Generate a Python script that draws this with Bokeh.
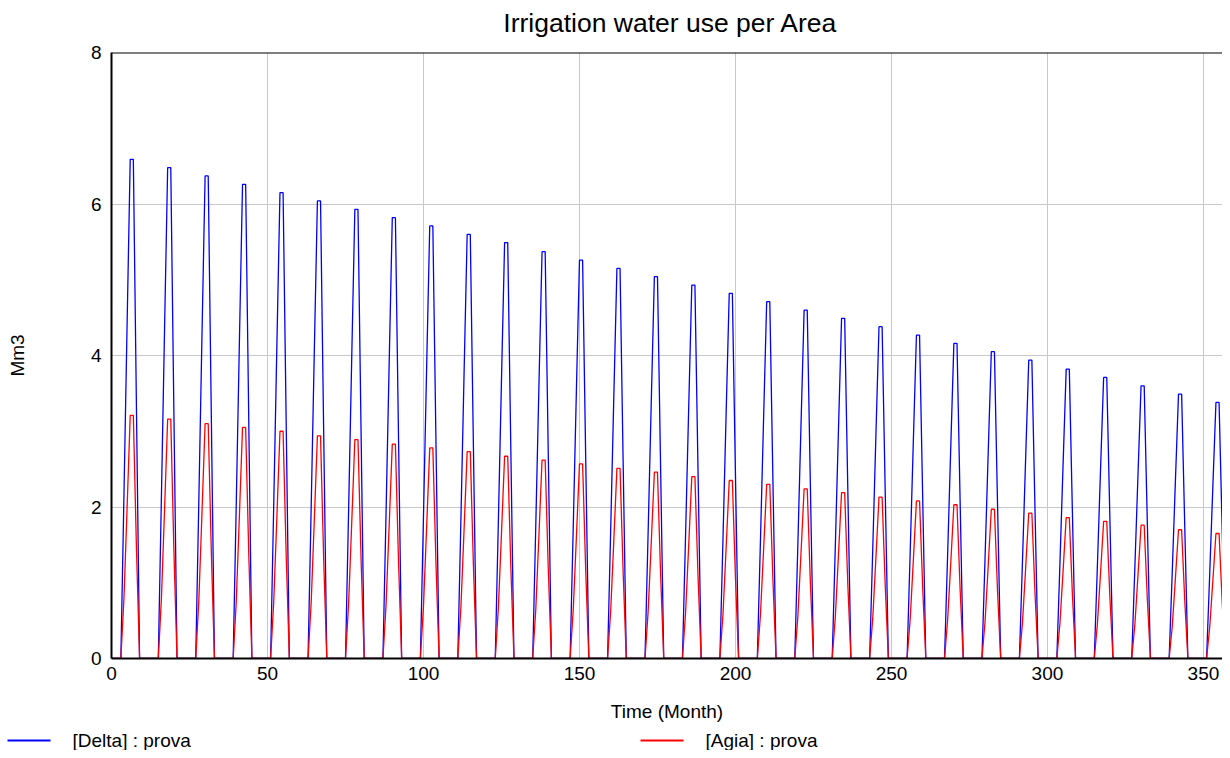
from bokeh.plotting import figure
from bokeh.models import Range1d, Span, FixedTicker
from bokeh.core.properties import value
from bokeh.embed import file_html
from bokeh.resources import INLINE

# Peak value of each yearly irrigation pulse, 30 years
delta_peaks = [6.59, 6.48, 6.37, 6.26, 6.15, 6.04, 5.93, 5.82, 5.71, 5.60,
               5.49, 5.37, 5.26, 5.15, 5.04, 4.93, 4.82, 4.71, 4.60, 4.49,
               4.38, 4.27, 4.16, 4.05, 3.94, 3.82, 3.71, 3.60, 3.49, 3.38]
agia_peaks = [3.21, 3.16, 3.10, 3.05, 3.00, 2.94, 2.89, 2.83, 2.78, 2.73,
              2.67, 2.62, 2.57, 2.51, 2.46, 2.40, 2.35, 2.30, 2.24, 2.19,
              2.13, 2.08, 2.03, 1.97, 1.92, 1.86, 1.81, 1.76, 1.70, 1.65]
# Monthly shape of a pulse within each year (fraction of that year's peak)
delta_season = [0, 0, 0, 0, 0.33, 0.67, 1, 1, 0.5, 0, 0, 0]
agia_season = [0, 0, 0, 0, 0.25, 0.62, 1, 1, 0.45, 0, 0, 0]

title_text = ["Irrigation water use per Area"]
series_labels = ["[Delta] : prova", "[Agia] : prova"]
series_colors = ["#0000ff", "#ff0000"]

months = list(range(0, 361))
delta = []
agia = []
for m in months:
    yr = m // 12
    k = m % 12
    if yr >= len(delta_peaks):
        delta.append(0.0)
        agia.append(0.0)
    else:
        delta.append(delta_peaks[yr] * delta_season[k])
        agia.append(agia_peaks[yr] * agia_season[k])

x_ticks = [0, 50, 100, 150, 200, 250, 300, 350]
y_ticks = [0, 2, 4, 6, 8]

FONT = "Liberation Sans"


def strip(h):
    f = figure(width=1222, height=h, x_range=Range1d(0, 1222), y_range=Range1d(0, h),
               output_backend="svg", toolbar_location=None,
               min_border_left=0, min_border_right=0, min_border_top=0, min_border_bottom=0)
    f.xaxis.visible = False
    f.yaxis.visible = False
    f.xgrid.visible = False
    f.ygrid.visible = False
    f.outline_line_color = None
    return f


# Title strip
ti = strip(42)
ti.text(x=[670], y=[20], text=title_text, text_font=value(FONT), text_font_size="26.5px",
        text_color="black", text_baseline="middle", text_align="center")

# Main chart
p = figure(width=1222, height=686, x_range=Range1d(0, 356.1), y_range=Range1d(0, 8),
           output_backend="svg", toolbar_location=None,
           min_border_left=111, min_border_right=0, min_border_top=10, min_border_bottom=70)
p.outline_line_color = None
p.background_fill_color = "white"
p.border_fill_color = "white"

for ax in (p.xaxis[0], p.yaxis[0]):
    ax.axis_line_color = "black"
    ax.axis_line_width = 2
    ax.major_tick_out = 0
    ax.major_tick_in = 0
    ax.minor_tick_out = 0
    ax.minor_tick_in = 0
    ax.major_label_text_font = FONT
    ax.major_label_text_font_size = "19px"
    ax.major_label_text_color = "black"
    ax.axis_label_text_font = FONT
    ax.axis_label_text_font_size = "19px"
    ax.axis_label_text_font_style = "normal"
    ax.axis_label_text_color = "black"

p.xaxis[0].ticker = FixedTicker(ticks=x_ticks)
p.yaxis[0].ticker = FixedTicker(ticks=y_ticks)
p.xaxis[0].axis_label = "Time (Month)"
p.yaxis[0].axis_label = "Mm3"
p.xaxis[0].major_label_standoff = 8
p.yaxis[0].major_label_standoff = 10
p.xaxis[0].axis_label_standoff = 18
p.yaxis[0].axis_label_standoff = 60

p.xgrid.ticker = FixedTicker(ticks=x_ticks)
p.ygrid.ticker = FixedTicker(ticks=y_ticks)
for g in (p.xgrid[0], p.ygrid[0]):
    g.grid_line_color = "#c8c8c8"
    g.grid_line_width = 1

top = Span(location=8, dimension="width", line_color="black", line_width=2)
p.add_layout(top)

p.line(months, delta, line_color=series_colors[0], line_width=1.3)
p.line(months, agia, line_color=series_colors[1], line_width=1.3)

# Legend strip below the chart (pixel-like coordinates for the key layout)
lg = strip(22)
key_x0 = [7, 640]
key_len = 43
key_y = [10, 10]
lg.segment(x0=key_x0, y0=key_y, x1=[k + key_len for k in key_x0], y1=key_y,
           line_color=series_colors, line_width=2)
lg.text(x=[k + key_len + 22 for k in key_x0], y=key_y, text=series_labels,
        text_font=value(FONT), text_font_size="19px", text_color="black",
        text_baseline="middle", text_align="left")

open("out.html", "w").write(file_html([ti, p, lg], INLINE))
